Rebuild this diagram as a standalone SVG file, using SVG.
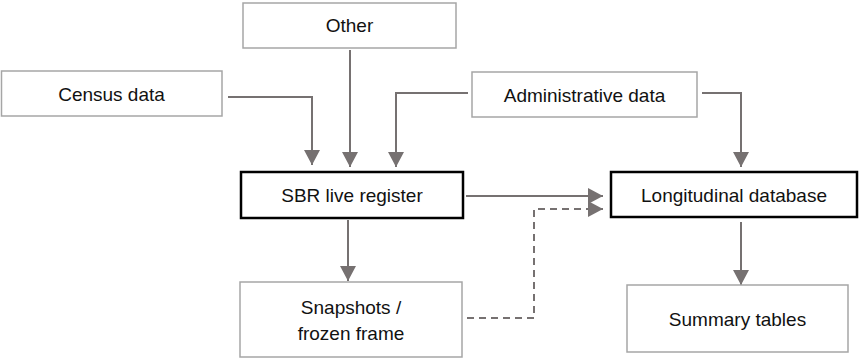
<svg xmlns="http://www.w3.org/2000/svg" width="860" height="358" viewBox="0 0 860 358">
<style>
.box{fill:#fff;stroke:#a6a6a6;stroke-width:1.5}
.main{fill:#fff;stroke:#000;stroke-width:2.5}
.t{font-family:"Liberation Sans",Arial,sans-serif;font-size:19px;fill:#111;text-anchor:middle}
.c{fill:none;stroke:#767171;stroke-width:2}
.d{stroke-dasharray:7 5}
</style>
<defs>
<marker id="ah" markerUnits="userSpaceOnUse" markerWidth="18" markerHeight="18" viewBox="0 0 18 18" refX="16" refY="9" orient="auto">
<path d="M1,1 L16,9 L1,17 Z" fill="#767171"/>
</marker>
</defs>
<g id="connectors">
<path class="c" d="M228,97 H312 V165" marker-end="url(#ah)"/>
<path class="c" d="M350,50 V167" marker-end="url(#ah)"/>
<path class="c" d="M468,93 H396 V167" marker-end="url(#ah)"/>
<path class="c" d="M702,93 H741 V167" marker-end="url(#ah)"/>
<path class="c" d="M466,196 H603" marker-end="url(#ah)"/>
<path class="c d" d="M467,318 H534 V209 H603" marker-end="url(#ah)"/>
<path class="c" d="M348,220 V281" marker-end="url(#ah)"/>
<path class="c" d="M741,222 V285" marker-end="url(#ah)"/>
</g>
<g id="other"><rect class="box" x="243" y="3" width="213" height="45"/><text class="t" x="349.5" y="32">Other</text></g>
<g id="census"><rect class="box" x="1.5" y="71" width="220.5" height="45"/><text class="t" x="111.5" y="100.5">Census data</text></g>
<g id="admin"><rect class="box" x="472" y="72" width="225" height="45"/><text class="t" x="584.5" y="101.5">Administrative data</text></g>
<g id="sbr"><rect class="main" x="241" y="172" width="222" height="46"/><text class="t" x="352" y="202">SBR live register</text></g>
<g id="longitudinal"><rect class="main" x="611" y="172" width="246" height="45"/><text class="t" x="734" y="201.5">Longitudinal database</text></g>
<g id="snapshots"><rect class="box" x="240" y="282" width="222" height="75"/><text class="t" x="351" y="314">Snapshots /</text><text class="t" x="351" y="340">frozen frame</text></g>
<g id="summary"><rect class="box" x="627" y="285" width="221" height="67"/><text class="t" x="737.5" y="325.5">Summary tables</text></g>
</svg>
